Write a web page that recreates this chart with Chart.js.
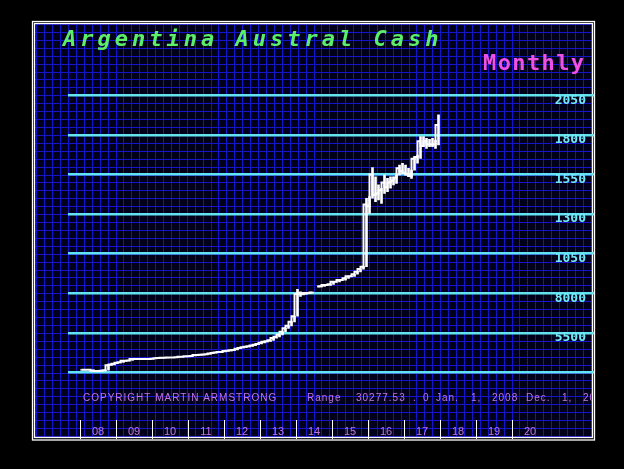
<!DOCTYPE html>
<html>
<head>
<meta charset="utf-8">
<script src="https://cdn.jsdelivr.net/npm/chart.js@4"></script>
<style>
html,body{margin:0;padding:0;background:#000;}
#wrap{position:relative;width:624px;height:469px;}
</style>
</head>
<body>
<div id="wrap"><canvas id="c"></canvas></div>
<script>
// ---- texts ----
const chartTitle = 'Argentina Austral Cash';
const periodLabel = 'Monthly';
const copyrightText = 'COPYRIGHT MARTIN ARMSTRONG';
const rangeTokens = ['Range', '30277.53', '.', '0', 'Jan.', '1,', '2008', 'Dec.', '1,', '2017'];

// ---- axes ----
const yearLabels = ['08','09','10','11','12','13','14','15','16','17','18','19','20'];
const yearTickMonths = [-0.5, 11.5, 23.5, 35.5, 47.5, 59.5, 71.5, 83.5, 95.5, 107.5, 119.5, 131.5, 143.5];
const yTickValues = [3000, 5500, 8000, 10500, 13000, 15500, 18000, 20500];
const yTickLabels = ['', '5500', '8000', '1050', '1300', '1550', '1800', '2050'];

// ---- monthly data, Jan 2008 .. Dec 2017 (month index 0..119) ----
const closes = [
  3170,3170,3175,3170,3110,3100,3100,3110,3140,3450,3500,3550,
  3620,3640,3740,3740,3760,3850,3860,3860,3860,3850,3850,3860,
  3870,3900,3920,3930,3930,3940,3950,3950,3960,4000,4000,4020,
  4030,4040,4100,4110,4120,4130,4150,4200,4230,4270,4290,4300,
  4350,4380,4400,4420,4500,4550,4590,4620,4650,4700,4750,4800,
  4880,4940,4980,5030,5180,5260,5380,5580,5800,5950,6200,6550,
  7950,8000,7950,8000,8020,8050,null,8420,8440,8520,8520,8570,
  8730,8730,8840,8840,8950,9070,9070,9200,9360,9530,9680,13600,
  13500,15500,14200,14300,14500,15000,14700,15000,15100,15300,15900,15700,
  15600,15500,15400,16500,16600,17600,17300,17600,17400,17400,17400,18620
];
const lows = [
  3150,3160,3160,3150,3100,3090,3090,3090,3100,3140,3440,3480,
  3550,3610,3640,3720,3730,3760,3840,3850,3850,3840,3840,3840,
  3850,3870,3900,3910,3920,3920,3930,3940,3940,3960,3990,3990,
  4010,4020,4040,4090,4100,4110,4130,4150,4200,4230,4260,4280,
  4300,4340,4370,4390,4420,4500,4550,4580,4620,4650,4700,4750,
  4800,4870,4930,4970,5020,5170,5250,5370,5570,5790,5940,6190,
  6550,7800,7900,7940,7980,8020,null,8380,8400,8440,8500,8500,
  8560,8700,8720,8820,8830,8940,9050,9060,9200,9350,9520,9680,
  13050,14000,13780,13890,13680,14310,14410,14630,14840,14940,15470,15575,
  15470,15360,15260,15780,16210,16520,17250,17150,17250,17250,17150,17360
];
const highs = [
  3190,3180,3180,3180,3170,3120,3110,3120,3150,3480,3520,3560,
  3630,3660,3750,3760,3770,3860,3870,3870,3870,3870,3860,3870,
  3880,3910,3930,3940,3940,3950,3960,3960,3970,4010,4010,4030,
  4040,4050,4110,4120,4130,4140,4160,4210,4240,4280,4300,4320,
  4360,4390,4410,4430,4510,4560,4600,4630,4660,4710,4760,4810,
  4890,4950,4990,5040,5190,5270,5390,5590,5810,5960,6210,6560,
  8250,8100,8050,8030,8050,8080,null,8450,8460,8540,8550,8590,
  8750,8760,8860,8860,8970,9090,9100,9220,9380,9550,9700,14000,
  14100,15930,15360,14840,14630,15470,15260,15360,15360,15470,16100,16210,
  16100,15890,15780,16620,16730,17890,17890,17790,17720,17790,17680,19260
];

// ---- decoration plugin (frame, blue grid, free texts) ----
const frame = { l: 34.5, t: 24, r: 592.5, b: 437.5 };
const backdrop = {
  id: 'backdrop',
  beforeDraw(chart) {
    const { ctx, chartArea: a, scales: { y } } = chart;
    ctx.save();
    ctx.fillStyle = '#000';
    ctx.fillRect(0, 0, chart.width, chart.height);
    ctx.fillStyle = '#00001a';
    ctx.fillRect(frame.l, frame.t, frame.r - frame.l, frame.b - frame.t);
    // fine blue grid aligned with the value scale (500 units per cell)
    const step = Math.abs(y.getPixelForValue(3500) - y.getPixelForValue(3000));
    ctx.strokeStyle = '#1414c8';
    ctx.lineWidth = 1;
    ctx.beginPath();
    let x0 = a.left - Math.floor((a.left - frame.l) / step) * step;
    for (let x = x0; x < frame.r; x += step) {
      const px = Math.round(x) + 0.5;
      ctx.moveTo(px, frame.t); ctx.lineTo(px, frame.b);
    }
    let y0 = a.top - Math.floor((a.top - frame.t) / step) * step;
    for (let yy = y0; yy < frame.b; yy += step) {
      const py = Math.round(yy) + 0.5;
      ctx.moveTo(frame.l, py); ctx.lineTo(frame.r, py);
    }
    ctx.stroke();
    // double white frame
    ctx.strokeStyle = '#ffffff';
    ctx.lineWidth = 1.3;
    ctx.strokeRect(32.5, 21.5, 562, 418.5);
    ctx.strokeRect(34.5, 23.5, 558, 414);
    // title
    ctx.textBaseline = 'alphabetic';
    ctx.textAlign = 'left';
    ctx.font = 'italic bold 22px "DejaVu Sans Mono"';
    ctx.letterSpacing = '4px';
    ctx.fillStyle = '#5cf06a';
    ctx.fillText(chartTitle, 63, 46);
    // period
    ctx.font = 'bold 22px "DejaVu Sans Mono"';
    ctx.letterSpacing = '1.4px';
    ctx.fillStyle = '#f050e6';
    ctx.fillText(periodLabel, 483, 70);
    // footer
    ctx.font = '10px "Liberation Sans"';
    ctx.letterSpacing = '1px';
    ctx.fillStyle = '#c474e6';
    ctx.textBaseline = 'middle';
    ctx.fillText(copyrightText, 83, 398.5);
    ctx.beginPath();
    ctx.rect(frame.l, frame.t, frame.r - frame.l - 1, frame.b - frame.t);
    ctx.clip();
    const tokenX = [307, 356, 413, 423, 436, 471, 492, 526, 562, 583];
    rangeTokens.forEach((t, i) => ctx.fillText(t, tokenX[i], 398.5));
    ctx.restore();
  }
};

const barData = closes.map((c, i) => ({ x: i, y: (lows[i] == null ? null : [lows[i], highs[i]]) }));
const closeData = closes.map((c, i) => ({ x: i, y: c }));

new Chart(document.getElementById('c'), {
  type: 'bar',
  data: {
    datasets: [
      {
        type: 'bar',
        data: barData,
        backgroundColor: '#ffffff',
        borderWidth: 0,
        barThickness: 2,
        order: 1
      },
      {
        type: 'line',
        data: closeData,
        borderColor: '#ffffff',
        borderWidth: 2,
        stepped: 'after',
        pointRadius: 0,
        spanGaps: false,
        order: 0
      }
    ]
  },
  options: {
    responsive: true,
    maintainAspectRatio: false,
    animation: false,
    devicePixelRatio: 1,
    layout: { padding: { left: 68, right: 30, top: 95.3, bottom: 96.5 } },
    plugins: { legend: { display: false }, tooltip: { enabled: false }, title: { display: false } },
    scales: {
      x: {
        type: 'linear',
        min: -4.5,
        max: 170.83,
        offset: false,
        position: { y: 30 },
        afterBuildTicks: s => { s.ticks = yearTickMonths.map(v => ({ value: v })); },
        grid: { drawOnChartArea: false, drawTicks: true, tickLength: 19, color: '#ffffff', lineWidth: 1, offset: false },
        border: { display: false },
        ticks: {
          autoSkip: false, maxRotation: 0, minRotation: 0,
          labelOffset: 18, padding: -13,
          color: '#c474e6',
          font: { family: 'Liberation Sans', size: 11 },
          callback: (v, i) => yearLabels[i]
        }
      },
      y: {
        type: 'linear',
        position: 'right',
        min: 3000,
        max: 20500,
        afterBuildTicks: s => { s.ticks = yTickValues.map(v => ({ value: v })); },
        afterFit: s => { s.width = 0; },
        grid: { color: '#62e4f0', lineWidth: 2.5, drawTicks: false },
        border: { display: false },
        ticks: {
          mirror: true, padding: -8, labelOffset: 5,
          color: '#70e8f8',
          font: { family: 'DejaVu Sans Mono', size: 13, weight: 'bold' },
          callback: (v, i) => yTickLabels[i]
        }
      }
    }
  },
  plugins: [backdrop]
});
</script>
</body>
</html>
